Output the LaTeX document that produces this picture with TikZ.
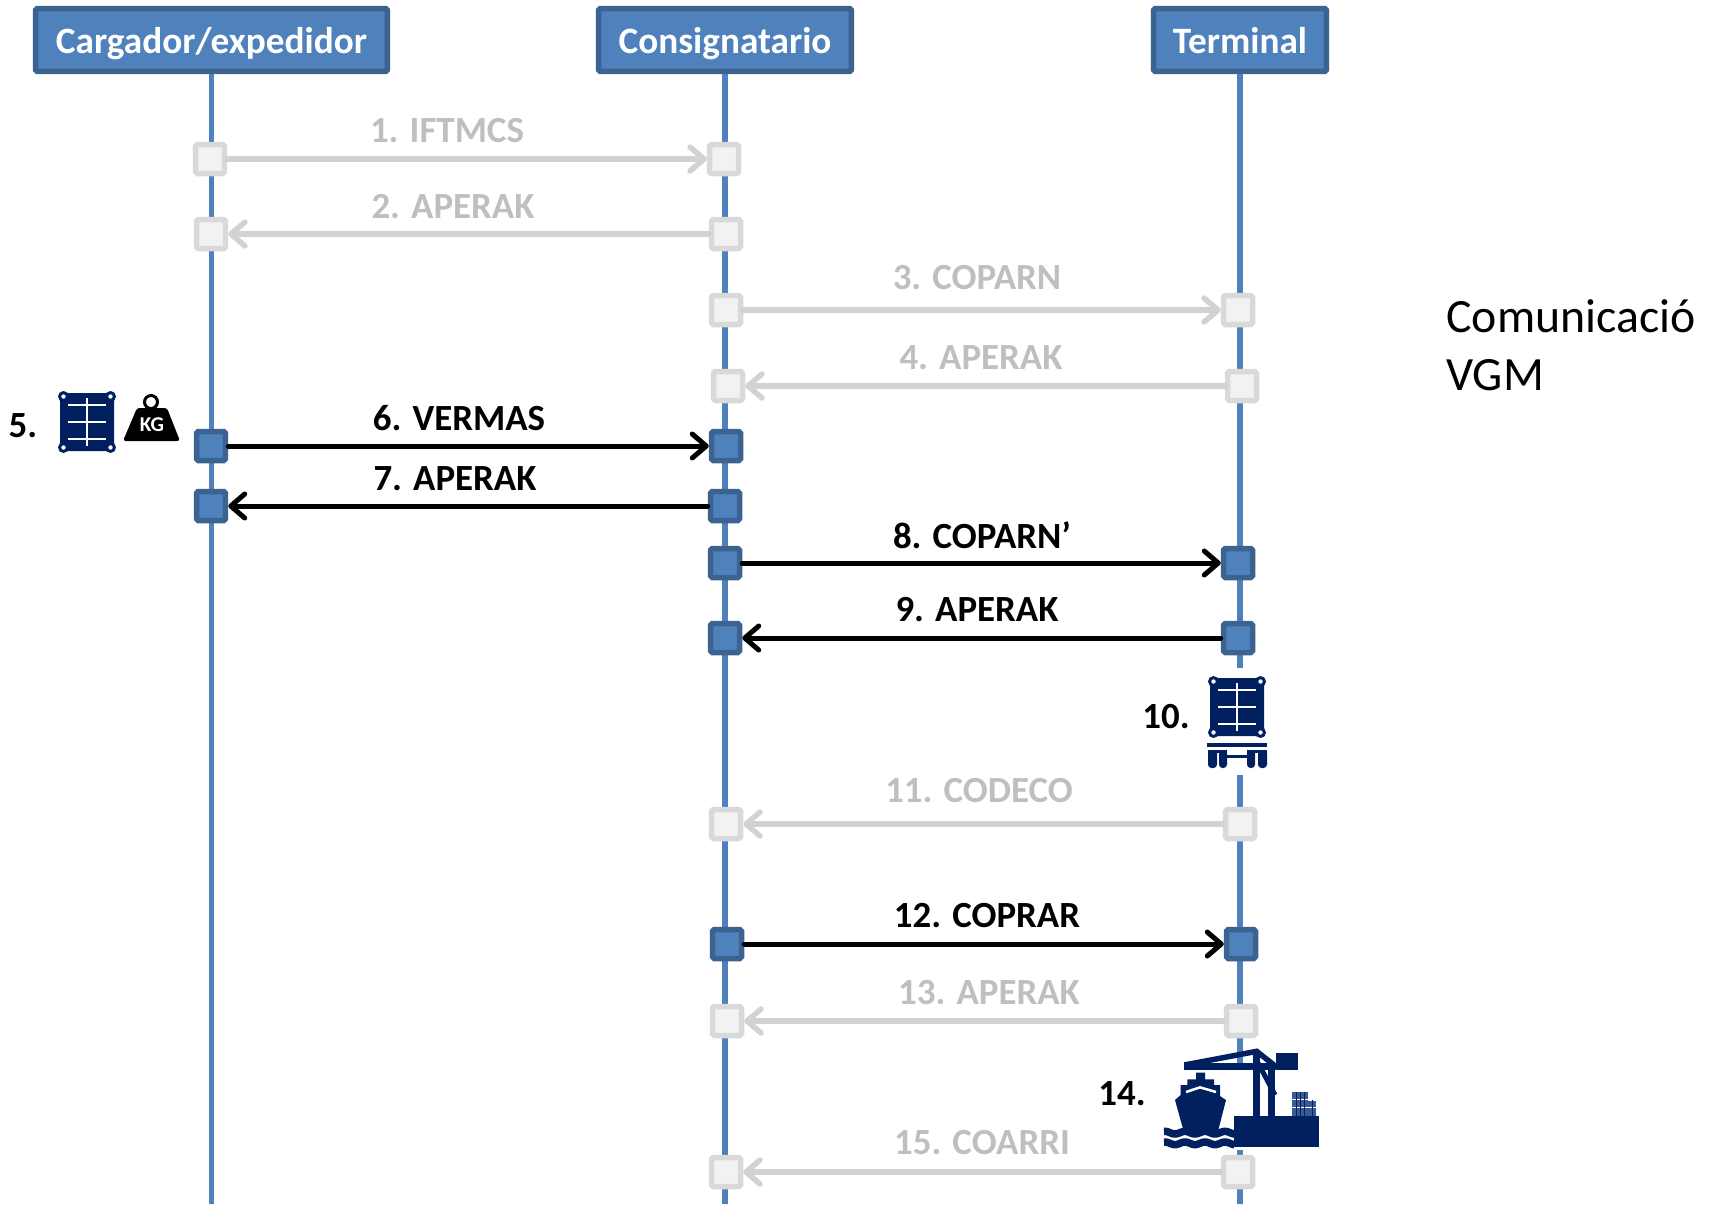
\documentclass[tikz,border=0pt]{standalone}
\usepackage{fontspec}
\setmainfont{Carlito}
\usetikzlibrary{arrows.meta,shadows}
\definecolor{boxblue}{HTML}{4F81BD}
\definecolor{boxedge}{HTML}{3B6291}
\definecolor{offfill}{HTML}{F2F2F2}
\definecolor{offedge}{HTML}{D9D9D9}
\definecolor{offline}{HTML}{D2D2D2}
\definecolor{offtext}{HTML}{BFBFBF}
\definecolor{iconblue}{HTML}{002060}
\definecolor{stackblue}{HTML}{3A5A94}
\tikzset{
    header/.style={draw=boxedge, fill=boxblue, line width=0.11cm, rounded corners=1pt, minimum height=1.26cm,
        text=white, font=\fontsize{21.2}{24}\selectfont\bfseries, text height=0.56cm, text depth=0.02cm,
        drop shadow={shadow xshift=1pt, shadow yshift=-1pt, opacity=.2}},
    lifeline/.style={boxblue, line width=0.11cm, preaction={draw=black!18, transform canvas={xshift=0.7pt, yshift=-0.5pt}}},
    onbox/.style={draw=boxedge, fill=boxblue, line width=0.11cm, rounded corners=1pt, minimum size=0.58cm, inner sep=0pt},
    offbox/.style={draw=offedge, fill=offfill, line width=0.11cm, rounded corners=1pt, minimum size=0.58cm, inner sep=0pt},
    onmsg/.style={black, line width=0.1cm, line cap=round, -{Straight Barb[length=0.28cm,width=0.48cm,round]}},
    offmsg/.style={offline, line width=0.11cm, line cap=round, -{Straight Barb[length=0.28cm,width=0.48cm,round]},
        preaction={draw=black!14, transform canvas={xshift=0.4pt, yshift=-1pt}}},
    onlabel/.style={text=black, font=\fontsize{21}{24}\selectfont\bfseries},
    offlabel/.style={text=offtext, font=\fontsize{21}{24}\selectfont\bfseries},
    cargobox/.pic={
        \fill[iconblue, rounded corners=2pt] (-27,-29) rectangle (27,29);
        \foreach \sx in {-1,1} \foreach \sy in {-1,1}
            \fill[iconblue] (\sx*23.5,\sy*25.5) circle (5.5);
        \foreach \sx in {-1,1} \foreach \sy in {-1,1}
            \fill[white] (\sx*23.5,\sy*25.5) circle (2.2);
        \draw[white, line width=0.04cm] (0,-24) -- (0,24);
        \foreach \sy in {-17,0,17}
            \draw[white, line width=0.04cm] (-19,\sy) -- (19,\sy);
    }
}
\begin{document}
\begin{tikzpicture}[x=0.02cm, y=-0.02cm]
    \useasboundingbox (0,0) rectangle (1714,1204);

    \node[header, minimum width=7.04cm] (cargador) at (211.5,40) {Cargador/expedidor};
    \node[header, minimum width=5.06cm] (consignatario) at (725,40) {Consignatario};
    \node[header, minimum width=3.46cm] (terminal) at (1240,40) {Terminal};

    \coordinate (cargadorend) at (211.5,1204);
    \coordinate (consignatarioend) at (725,1204);
    \coordinate (terminalend) at (1240,1204);
    \draw[lifeline] (cargador.south) -- (cargadorend);
    \draw[lifeline] (consignatario.south) -- (consignatarioend);
    \draw[lifeline] (terminal.south) -- (terminalend);

    \node[offbox] (car1) at (210,159) {};
    \node[offbox] (con1) at (724,159) {};
    \node[offbox] (car2) at (211,234) {};
    \node[offbox] (con2) at (726,234) {};
    \node[offbox] (con3) at (726,310) {};
    \node[offbox] (ter3) at (1238,310) {};
    \node[offbox] (con4) at (728,386) {};
    \node[offbox] (ter4) at (1242,386) {};
    \node[onbox] (car6) at (211,446) {};
    \node[onbox] (con6) at (726,446) {};
    \node[onbox] (car7) at (211,506) {};
    \node[onbox] (con7) at (725,506) {};
    \node[onbox] (con8) at (725,563) {};
    \node[onbox] (ter8) at (1238,563) {};
    \node[onbox] (con9) at (725,638) {};
    \node[onbox] (ter9) at (1238,638) {};
    \node[offbox] (con11) at (726,824) {};
    \node[offbox] (ter11) at (1240,824) {};
    \node[onbox] (con12) at (727,944) {};
    \node[onbox] (ter12) at (1241,944) {};
    \node[offbox] (con13) at (727,1021) {};
    \node[offbox] (ter13) at (1241,1021) {};
    \node[offbox] (con15) at (726,1172) {};
    \node[offbox] (ter15) at (1238,1172) {};

    \draw[offmsg] (car1) -- (con1);
    \draw[offmsg] (con2) -- (car2);
    \draw[offmsg] (con3) -- (ter3);
    \draw[offmsg] (ter4) -- (con4);
    \draw[onmsg] (car6) -- (con6);
    \draw[onmsg] (con7) -- (car7);
    \draw[onmsg] (con8) -- (ter8);
    \draw[onmsg] (ter9) -- (con9);
    \draw[offmsg] (ter11) -- (con11);
    \draw[onmsg] (con12) -- (ter12);
    \draw[offmsg] (ter13) -- (con13);
    \draw[offmsg] (ter15) -- (con15);

    \node[offlabel] (lab1) at (447,131) {1. IFTMCS};
    \node[offlabel] (lab2) at (453,207) {2. APERAK};
    \node[offlabel] (lab3) at (977,278) {3. COPARN};
    \node[offlabel] (lab4) at (981,358) {4. APERAK};
    \node[onlabel] (lab5) at (23,426) {5.};
    \node[onlabel] (lab6) at (459,418) {6. VERMAS};
    \node[onlabel] (lab7) at (455,479) {7. APERAK};
    \node[onlabel] (lab8) at (982,535) {8. COPARN’};
    \node[onlabel] (lab9) at (977,610) {9. APERAK};
    \node[onlabel] (lab10) at (1166,717) {10.};
    \node[offlabel] (lab11) at (979,791) {11. CODECO};
    \node[onlabel] (lab12) at (987,916) {12. COPRAR};
    \node[offlabel] (lab13) at (989,993) {13. APERAK};
    \node[onlabel] (lab14) at (1122,1094) {14.};
    \node[offlabel] (lab15) at (982,1143) {15. COARRI};
    \node[anchor=west, align=left, inner sep=0pt, font=\fontsize{27.2}{33}\selectfont] (vgm) at (1446,345) {Comunicació\\VGM};

    \pic at (87,422) {cargobox};
    \fill[black, rounded corners=1.5pt] (137,408) -- (167,408) -- (180,441) -- (123,441) -- cycle;
    \draw[black, line width=0.06cm] (151,402) circle (6.5);
    \node[inner sep=0pt, text=white, font=\fontsize{12}{13}\selectfont\bfseries] (kg) at (152,425) {KG};

    \fill[white] (1198,668) rectangle (1270,775);
    \pic at (1237,707) {cargobox};
    \fill[iconblue] (1207,743) rectangle (1267,747);
    \fill[iconblue] (1208,750) rectangle (1227,753);
    \fill[iconblue] (1247,750) rectangle (1267,753);
    \fill[iconblue, rounded corners=2pt] (1208,750) rectangle (1217,768);
    \fill[iconblue, rounded corners=2pt] (1219,750) rectangle (1227,768);
    \fill[iconblue, rounded corners=2pt] (1247,750) rectangle (1255,768);
    \fill[iconblue, rounded corners=2pt] (1258,750) rectangle (1267,768);
    \fill[iconblue] (1227,755) rectangle (1247,758);

    \fill[white] (1163,1067) rectangle (1320,1150);
    \begin{scope}[shift={(1090,1030)}, x=0.02cm/3, y=-0.02cm/3]
        \fill[iconblue] (318,128) -- (345,128) -- (345,148) -- (372,148) -- (372,165) -- (390,165) -- (390,198) -- (408,210) -- (385,300) -- (280,300) -- (255,210) -- (272,195) -- (272,165) -- (292,165) -- (292,148) -- (318,148) -- cycle;
        \draw[white, line width=0.05cm] (288,186) -- (330,172) -- (378,186);
        \draw[iconblue, line width=0.15cm] plot[domain=222:433, samples=50] (\x, {308+4*sin(\x*6)});
        \draw[iconblue, line width=0.15cm] plot[domain=222:433, samples=50] (\x, {340+4*sin(\x*6)});
        \fill[stackblue] (607,187) rectangle (655,257);
        \fill[stackblue] (655,212) rectangle (678,257);
        \foreach \stacky in {207,232}
            \draw[white, line width=0.02cm] (607,\stacky) -- (678,\stacky);
        \foreach \stackx in {618,630,642,666}
            \draw[iconblue, line width=0.02cm] (\stackx,187) -- (\stackx,257);
        \fill[white] (655,186) rectangle (679,211);
        \fill[iconblue] (433,257) rectangle (688,352);
        \draw[iconblue, line width=0.13cm] (283,110) -- (560,110);
        \draw[iconblue, line width=0.11cm] (283,105) -- (500,64) -- (552,105);
        \draw[iconblue, line width=0.14cm] (500,60) -- (500,295);
        \draw[iconblue, line width=0.14cm] (543,105) -- (543,295);
        \draw[iconblue, line width=0.1cm] (505,100) -- (555,195);
        \fill[iconblue] (557,70) rectangle (625,120);
    \end{scope}
\end{tikzpicture}
\end{document}
